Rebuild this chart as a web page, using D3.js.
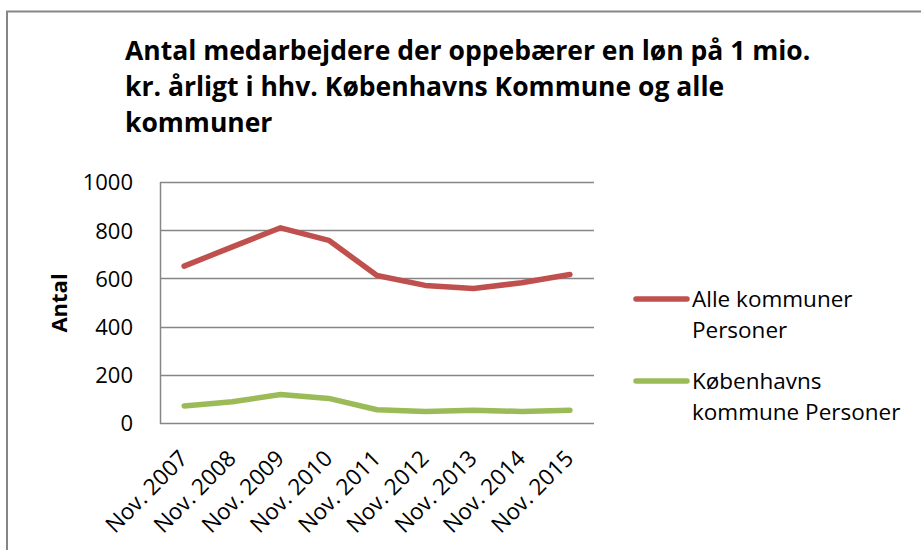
<!DOCTYPE html>
<html>
<head>
<meta charset="utf-8">
<script src="https://cdn.jsdelivr.net/npm/d3@7"></script>
<style>
  body { margin: 0; background: #fff; }
  text { font-family: "Open Sans", Lato, sans-serif; fill: #000; }
</style>
</head>
<body>
<svg id="chart" width="921" height="550"></svg>
<script>
let categories = ["Nov. 2007", "Nov. 2008", "Nov. 2009", "Nov. 2010", "Nov. 2011", "Nov. 2012", "Nov. 2013", "Nov. 2014", "Nov. 2015"];
let alleKommuner = [651, 731, 810, 758, 612, 571, 558, 582, 616];
let kobenhavn = [71, 88, 118, 102, 55, 48, 53, 48, 53];
let seriesNames = [["Alle kommuner", "Personer"], ["Københavns", "kommune Personer"]];
let yTicks = [0, 200, 400, 600, 800, 1000];
let titleLines = ["Antal medarbejdere der oppebærer en løn på 1 mio.", "kr. årligt i hhv. Københavns Kommune og alle", "kommuner"];

let svg = d3.select("#chart");
let colors = ["#C0504D", "#9BBB59"];
let gridColor = "#868686";

// outer chart frame
svg.append("rect")
  .attr("x", 7).attr("y", 11.5)
  .attr("width", 940).attr("height", 560)
  .style("fill", "none")
  .style("stroke", gridColor)
  .style("stroke-width", 2);

// title
titleLines.forEach(function(t, i) {
  svg.append("text")
    .attr("x", 125)
    .attr("y", 60 + i * 36)
    .text(t)
    .style("font-weight", "bold")
    .style("font-size", "26.5px");
});

let plotLeft = 160, plotRight = 594, plotTop = 182, plotBottom = 423;

let x = d3.scaleBand().domain(categories).range([plotLeft, plotRight]);
let y = d3.scaleLinear().domain([0, 1000]).range([plotBottom, plotTop]);

// gridlines
svg.append("g")
  .selectAll("line")
  .data(yTicks)
  .enter().append("line")
  .attr("x1", plotLeft).attr("x2", plotRight)
  .attr("y1", function(d) { return Math.round(y(d)) + 0.5; })
  .attr("y2", function(d) { return Math.round(y(d)) + 0.5; })
  .style("stroke", gridColor)
  .style("stroke-width", 1.5);

// y axis line
svg.append("line")
  .attr("x1", plotLeft + 0.5).attr("x2", plotLeft + 0.5)
  .attr("y1", plotTop).attr("y2", plotBottom + 1)
  .style("stroke", gridColor)
  .style("stroke-width", 1.5);

// y tick labels
let yAxis = d3.axisLeft(y).tickValues(yTicks).tickFormat(d3.format("d")).tickSize(0).tickPadding(27);
let yg = svg.append("g").attr("transform", "translate(" + plotLeft + ",0)").call(yAxis);
yg.select(".domain").remove();
yg.selectAll("text")
  .style("font-size", "22px")
  .style("font-family", "'Open Sans', sans-serif")
  .attr("fill", "#000")
  .attr("dy", "0.36em");

// x tick labels
let xAxis = d3.axisBottom(x).tickSize(0).tickPadding(0);
let xg = svg.append("g").attr("transform", "translate(0," + plotBottom + ")").call(xAxis);
xg.select(".domain").remove();
xg.selectAll("text")
  .style("font-size", "22.5px")
  .style("font-family", "'Open Sans', sans-serif")
  .attr("fill", "#000")
  .attr("dy", null)
  .attr("y", null)
  .style("text-anchor", "end")
  .attr("transform", "translate(5,37) rotate(-45)");

// y axis title
svg.append("text")
  .attr("transform", "translate(67,303) rotate(-90)")
  .text("Antal")
  .style("font-weight", "bold")
  .style("font-size", "22px")
  .style("text-anchor", "middle");

// lines
let line = d3.line()
  .x(function(d, i) { return x(categories[i]) + x.bandwidth() / 2; })
  .y(function(d) { return y(d); });

[alleKommuner, kobenhavn].forEach(function(s, i) {
  svg.append("path")
    .datum(s)
    .attr("d", line)
    .style("fill", "none")
    .style("stroke", colors[i])
    .style("stroke-width", 5.5)
    .style("stroke-linejoin", "round")
    .style("stroke-linecap", "round");
});

// legend
let legendY = [299, 381];
seriesNames.forEach(function(names, i) {
  svg.append("line")
    .attr("x1", 636).attr("x2", 687)
    .attr("y1", legendY[i]).attr("y2", legendY[i])
    .style("stroke", colors[i])
    .style("stroke-width", 5.5)
    .style("stroke-linecap", "round");
  names.forEach(function(n, j) {
    svg.append("text")
      .attr("x", 692)
      .attr("y", legendY[i] + 8 + j * 31)
      .text(n)
      .style("font-size", "22.5px");
  });
});
</script>
</body>
</html>
